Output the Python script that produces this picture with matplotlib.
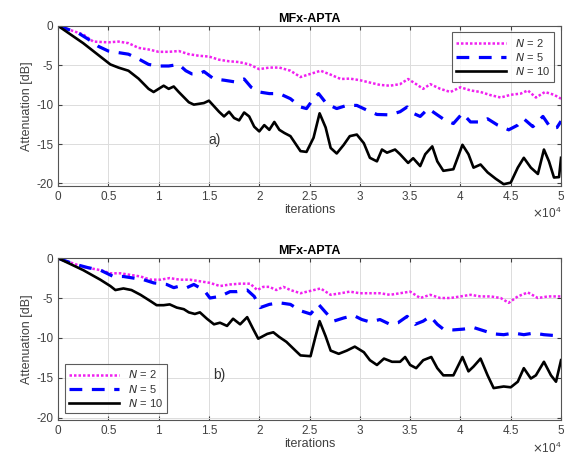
import matplotlib
matplotlib.use("Agg")
import matplotlib.pyplot as plt
from matplotlib.ticker import FuncFormatter

plt.rcParams['font.family'] = ['Liberation Sans', 'DejaVu Sans']
plt.rcParams['axes.unicode_minus'] = False

# ---------- data (x in units of 1e4 iterations) ----------
# Plot a)
a_n2_x = [0, 0.25, 0.35, 0.5, 0.6, 0.7, 0.8, 0.9, 1.0, 1.1, 1.2, 1.3, 1.4, 1.5, 1.6, 1.7, 1.8, 1.9, 2.0,
          2.1, 2.2, 2.31, 2.41, 2.51, 2.61, 2.71, 2.81, 2.9, 3.0, 3.1, 3.2, 3.3, 3.4, 3.48, 3.56, 3.63,
          3.7, 3.8, 3.9, 4.0, 4.1, 4.2, 4.3, 4.4, 4.5, 4.6, 4.67, 4.75, 4.84, 4.93, 5.0]
a_n2_y = [0, -1.1, -2.0, -2.1, -2.0, -2.2, -2.8, -3.0, -3.3, -3.3, -3.2, -3.6, -3.8, -3.9, -4.3, -4.5,
          -4.6, -4.9, -5.5, -5.3, -5.3, -5.7, -6.5, -6.1, -5.7, -6.2, -6.75, -6.7, -6.9, -7.2, -7.5,
          -7.6, -7.4, -6.75, -7.4, -8.0, -7.4, -8.0, -8.4, -7.8, -8.2, -8.4, -8.8, -9.1, -8.75, -8.6,
          -8.2, -9.1, -8.4, -8.75, -9.25]

a_n5_x = [0, 0.2, 0.3, 0.4, 0.5, 0.6, 0.7, 0.8, 0.9, 1.0, 1.1, 1.2, 1.27, 1.33, 1.4, 1.45, 1.55, 1.65,
          1.75, 1.85, 1.92, 2.0, 2.1, 2.2, 2.31, 2.41, 2.47, 2.54, 2.59, 2.67, 2.77, 2.87, 2.97, 3.07,
          3.17, 3.3, 3.4, 3.47, 3.53, 3.6, 3.68, 3.77, 3.85, 3.93, 4.02, 4.1, 4.2, 4.27, 4.37, 4.48,
          4.57, 4.63, 4.72, 4.82, 4.9, 4.96, 5.0]
a_n5_y = [0, -0.9, -1.7, -2.6, -3.2, -3.4, -3.6, -4.2, -4.9, -5.1, -5.1, -4.9, -5.7, -6.1, -6.1, -5.8,
          -6.75, -6.9, -7.1, -6.75, -7.8, -8.4, -8.6, -8.6, -9.25, -10.3, -10.5, -9.25, -8.6, -9.9,
          -10.5, -10.1, -10.1, -10.7, -11.25, -11.3, -10.9, -10.3, -11.1, -11.5, -10.5, -11.3, -12.0,
          -12.4, -11.1, -12.2, -12.2, -11.8, -12.6, -13.2, -12.6, -11.8, -12.8, -11.5, -13.0, -12.9,
          -12.1]

a_n10_x = [0, 0.25, 0.52, 0.6, 0.7, 0.75, 0.8, 0.9, 0.95, 1.0, 1.05, 1.1, 1.15, 1.2, 1.3, 1.35, 1.45,
           1.5, 1.6, 1.65, 1.7, 1.75, 1.8, 1.85, 1.9, 1.95, 2.0, 2.05, 2.1, 2.15, 2.2, 2.25, 2.31,
           2.41, 2.47, 2.54, 2.6, 2.66, 2.71, 2.77, 2.84, 2.9, 2.97, 3.04, 3.1, 3.17, 3.22, 3.27,
           3.35, 3.4, 3.48, 3.53, 3.6, 3.65, 3.72, 3.77, 3.83, 3.93, 4.02, 4.08, 4.13, 4.2, 4.27,
           4.35, 4.43, 4.5, 4.57, 4.63, 4.7, 4.77, 4.83, 4.88, 4.93, 4.98, 5.0]
a_n10_y = [0, -2.2, -4.9, -5.3, -5.7, -6.2, -6.7, -8.0, -8.4, -8.0, -7.6, -8.0, -7.7, -8.4, -9.7,
           -10.0, -9.8, -9.5, -10.9, -11.5, -10.9, -11.7, -12.0, -11.0, -11.5, -12.8, -13.4, -12.6,
           -13.2, -12.2, -13.2, -13.6, -14.0, -15.9, -16.0, -14.2, -11.1, -12.9, -15.5, -16.2, -15.1,
           -14.0, -13.8, -14.9, -16.75, -17.2, -15.7, -16.1, -15.7, -16.3, -17.4, -16.8, -17.8,
           -16.3, -15.3, -17.2, -18.4, -18.2, -15.1, -16.3, -18.0, -17.6, -18.6, -19.4, -20.1,
           -19.9, -18.0, -16.75, -18.0, -18.8, -15.7, -17.2, -19.25, -19.2, -16.75]

# Plot b)
b_n2_x = [0, 0.25, 0.42, 0.52, 0.62, 0.72, 0.82, 0.92, 1.02, 1.11, 1.21, 1.31, 1.41, 1.51, 1.61, 1.71,
          1.81, 1.91, 1.98, 2.04, 2.1, 2.17, 2.24, 2.31, 2.41, 2.51, 2.61, 2.71, 2.81, 2.9, 3.0, 3.1,
          3.2, 3.3, 3.4, 3.5, 3.6, 3.7, 3.8, 3.9, 4.0, 4.1, 4.2, 4.3, 4.4, 4.48, 4.57, 4.67, 4.77,
          4.87, 5.0]
b_n2_y = [0, -1.1, -1.5, -1.9, -1.9, -2.1, -2.3, -2.7, -2.7, -2.5, -2.7, -2.7, -2.9, -3.1, -3.5,
          -3.3, -3.2, -3.2, -4.0, -3.6, -3.6, -4.0, -3.6, -4.0, -4.4, -4.1, -3.8, -4.6, -4.4, -4.2,
          -4.4, -4.4, -4.4, -4.6, -4.4, -4.2, -5.0, -4.6, -5.0, -5.0, -4.8, -4.6, -4.8, -4.8, -5.0,
          -5.6, -4.8, -4.3, -5.0, -4.8, -4.8]

b_n5_x = [0, 0.15, 0.3, 0.42, 0.55, 0.65, 0.75, 0.85, 0.95, 1.08, 1.15, 1.21, 1.28, 1.35, 1.45, 1.51,
          1.61, 1.71, 1.78, 1.88, 1.95, 2.01, 2.1, 2.2, 2.31, 2.41, 2.51, 2.59, 2.66, 2.74, 2.84,
          2.94, 3.02, 3.1, 3.2, 3.3, 3.38, 3.47, 3.55, 3.63, 3.7, 3.77, 3.83, 3.93, 4.03, 4.13, 4.23,
          4.33, 4.43, 4.53, 4.63, 4.73, 4.83, 4.93, 5.0]
b_n5_y = [0, -0.7, -1.2, -1.5, -2.3, -2.3, -2.5, -2.7, -3.1, -3.3, -3.7, -3.5, -3.7, -3.3, -4.0,
          -5.0, -4.8, -4.2, -4.2, -4.0, -4.8, -6.2, -5.8, -5.6, -5.8, -6.6, -7.0, -5.8, -6.8, -7.9,
          -7.5, -7.2, -7.7, -8.0, -7.7, -8.3, -8.1, -7.3, -8.3, -7.9, -7.3, -8.3, -8.9, -9.0, -8.9,
          -8.7, -9.1, -9.5, -9.6, -9.4, -9.6, -9.4, -9.6, -9.7, -9.7]

b_n10_x = [0, 0.25, 0.42, 0.52, 0.57, 0.65, 0.73, 0.82, 0.92, 0.98, 1.05, 1.11, 1.18, 1.25, 1.3,
           1.36, 1.41, 1.48, 1.55, 1.61, 1.68, 1.74, 1.81, 1.88, 1.94, 1.99, 2.08, 2.14, 2.2, 2.27,
           2.36, 2.41, 2.51, 2.56, 2.6, 2.66, 2.71, 2.79, 2.87, 2.95, 3.04, 3.1, 3.17, 3.24, 3.32,
           3.4, 3.45, 3.5, 3.56, 3.63, 3.71, 3.77, 3.83, 3.93, 4.02, 4.08, 4.13, 4.2, 4.27, 4.33,
           4.43, 4.5, 4.57, 4.63, 4.7, 4.75, 4.83, 4.9, 4.95, 5.0]
b_n10_y = [0, -1.5, -2.7, -3.5, -4.0, -3.8, -4.0, -4.6, -5.4, -5.9, -5.9, -5.8, -6.2, -6.4, -6.8,
           -7.0, -6.8, -7.6, -8.3, -8.1, -8.5, -7.6, -8.3, -7.4, -8.9, -10.1, -9.5, -9.3, -9.9,
           -10.5, -11.6, -12.2, -12.3, -9.8, -7.9, -9.8, -11.6, -12.0, -11.6, -11.1, -11.8, -12.8,
           -13.4, -12.6, -13.0, -13.0, -12.4, -13.4, -13.8, -12.8, -12.4, -13.8, -14.7, -14.7,
           -12.4, -14.2, -13.6, -12.6, -14.7, -16.3, -16.1, -16.2, -15.5, -13.8, -15.1, -14.7,
           -13.0, -14.7, -15.5, -12.8]

labels = ['$N$ = 2', '$N$ = 5', '$N$ = 10']
xticks = [0, 0.5, 1, 1.5, 2, 2.5, 3, 3.5, 4, 4.5, 5]
yticks = [0, -5, -10, -15, -20]
scale = 1e4

fig = plt.figure(figsize=(5.69, 4.61), dpi=100)
ax1 = fig.add_axes([0.102, 0.597, 0.884, 0.347])
ax2 = fig.add_axes([0.102, 0.089, 0.884, 0.351])

panels = [
    (ax1, (a_n2_x, a_n2_y), (a_n5_x, a_n5_y), (a_n10_x, a_n10_y), 'a)', 1.56, -14.5, 'upper right'),
    (ax2, (b_n2_x, b_n2_y), (b_n5_x, b_n5_y), (b_n10_x, b_n10_y), 'b)', 1.6, -14.7, 'lower left'),
]

tick_col = '#404040'
for ax, s2, s5, s10, tag, tx, ty, loc in panels:
    l1, = ax.plot([v * scale for v in s2[0]], s2[1], color='#f020f0', lw=1.8, ls=(0, (1, 0.8)))
    l2, = ax.plot([v * scale for v in s5[0]], s5[1], color='#0000ff', lw=2.3, ls=(0, (4, 3)))
    l3, = ax.plot([v * scale for v in s10[0]], s10[1], color='black', lw=1.9)
    ax.set_xlim(0, 5e4)
    ax.set_ylim(-20.3, 0)
    ax.set_xticks([v * scale for v in xticks])
    ax.set_yticks(yticks)
    ax.xaxis.set_major_formatter(FuncFormatter(lambda v, p: f'{v / scale:g}'))
    ax.text(1.0, -0.175, r'$\times\mathdefault{10^4}$', transform=ax.transAxes, ha='right',
            va='center', fontsize=8.5, color=tick_col)
    ax.grid(True, color='#dcdcdc', lw=0.7)
    ax.tick_params(direction='in', labelsize=8.5, colors=tick_col, length=3, top=True, right=True)
    for sp in ax.spines.values():
        sp.set_color('#555555')
        sp.set_linewidth(0.8)
    ax.set_title('MFx-APTA', fontsize=9, fontweight='bold', pad=3)
    ax.set_xlabel('iterations', fontsize=9, color=tick_col, labelpad=1)
    ax.set_ylabel('Attenuation [dB]', fontsize=9, color=tick_col, labelpad=2)
    ax.text(tx * scale, ty, tag, fontsize=10, color='#333333', ha='center', va='center')
    leg = ax.legend([l1, l2, l3], labels, loc=loc, fontsize=8, frameon=True, fancybox=False,
                    edgecolor='#333333', handlelength=4.5, borderaxespad=0.6, labelspacing=0.2)
    leg.get_frame().set_linewidth(0.8)
    for t in leg.get_texts():
        t.set_color('#333333')

fig.savefig('out.png', dpi=100)
